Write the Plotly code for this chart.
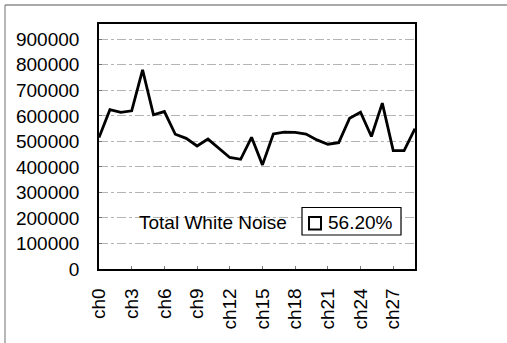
import plotly.graph_objects as go

# Channel labels and the white-noise level measured on each channel
channels = [f"ch{i}" for i in range(30)]
noise = [515000, 624000, 614000, 620000, 780000, 604000, 617000, 528000, 512000, 482000,
         509000, 473000, 437000, 430000, 516000, 408000, 529000, 536000, 535000, 529000,
         506000, 489000, 495000, 591000, 614000, 519000, 650000, 464000, 464000, 550000]

y_ticks = [0, 100000, 200000, 300000, 400000, 500000, 600000, 700000, 800000, 900000]
x_ticks = channels[::3]

series_name = "Total White Noise"
share_label = "56.20%"

FONT = "Liberation Sans, Arial, Helvetica, sans-serif"

# plot-area geometry in pixels (figure is 507 x 343)
W, H = 507, 343
L, R, T, B = 99, 92, 24, 74
pw, ph = W - L - R, H - T - B


def px(x):
    return (x - L) / pw


def py(y):
    return (H - B - y) / ph


fig = go.Figure()
fig.add_trace(go.Scatter(
    x=channels, y=noise, mode="lines",
    line=dict(color="black", width=2.8),
    showlegend=False, hoverinfo="x+y",
))

fig.update_layout(
    width=W, height=H,
    margin=dict(l=L, r=R, t=T, b=B),
    paper_bgcolor="white", plot_bgcolor="white",
    font=dict(family=FONT, size=19, color="black"),
    showlegend=False,
)

fig.update_xaxes(
    type="category", categoryorder="array", categoryarray=channels,
    range=[0, len(channels) - 1],
    tickmode="array", tickvals=x_ticks, ticktext=x_ticks,
    tickangle=-90, ticks="inside", ticklen=3, tickcolor="#777",
    ticklabelstandoff=10,
    showline=True, linecolor="black", linewidth=1.6, mirror=True,
    showgrid=False, zeroline=False,
)
fig.update_yaxes(
    range=[0, 960000],
    tickmode="array", tickvals=y_ticks, ticktext=[str(v) for v in y_ticks],
    ticks="inside", ticklen=3, tickcolor="#777",
    ticklabelstandoff=14,
    showline=True, linecolor="black", linewidth=1.6, mirror=True,
    showgrid=True, gridcolor="#b4b4b4", gridwidth=1, griddash="dashdot",
    zeroline=False,
)

# outer frame (top and left edges)
fig.add_shape(type="line", xref="paper", yref="paper",
              x0=px(5), x1=px(507), y0=py(5), y1=py(5),
              line=dict(color="#555", width=1.2))
fig.add_shape(type="line", xref="paper", yref="paper",
              x0=px(5), x1=px(5), y0=py(5), y1=py(343),
              line=dict(color="#888", width=1.2))

# series title
fig.add_annotation(xref="paper", yref="paper", x=px(212.5), y=py(222),
                   text=series_name, showarrow=False,
                   xanchor="center", yanchor="middle",
                   font=dict(family=FONT, size=19, color="black"))

# legend box with swatch and share value
fig.add_shape(type="rect", xref="paper", yref="paper",
              x0=px(302), x1=px(401), y0=py(207.5), y1=py(235),
              line=dict(color="black", width=1.2), fillcolor="white")
fig.add_shape(type="rect", xref="paper", yref="paper",
              x0=px(309), x1=px(321), y0=py(217), y1=py(229.5),
              line=dict(color="black", width=2), fillcolor="white")
fig.add_annotation(xref="paper", yref="paper", x=px(326), y=py(222),
                   text=share_label, showarrow=False,
                   xanchor="left", yanchor="middle",
                   font=dict(family=FONT, size=19, color="black"))

fig.write_html("out.html")
